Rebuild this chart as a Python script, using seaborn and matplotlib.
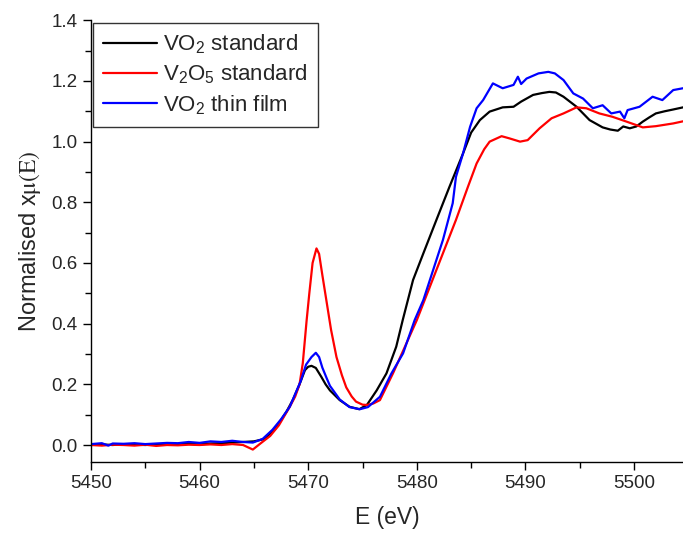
import pandas as pd
import matplotlib
matplotlib.use("Agg")
import matplotlib.pyplot as plt
import seaborn as sns
from matplotlib.ticker import MultipleLocator

# VO2 standard (black)
e_vo2 = [5450, 5451, 5452, 5453, 5454, 5455, 5456, 5457, 5458, 5459, 5460, 5461,
         5462, 5463, 5464, 5465, 5466, 5467, 5468, 5468.6, 5469.2, 5469.7, 5470.0,
         5470.3, 5470.7, 5471.2, 5471.6, 5472.0, 5472.9, 5473.8, 5474.7, 5475.4,
         5476.3, 5477.2, 5478.1, 5478.7, 5479.65, 5480.6, 5481.8, 5483.0, 5484.25,
         5485.0, 5485.8, 5486.7, 5487.9, 5488.9, 5489.6, 5490.7, 5491.5, 5492.2,
         5492.8, 5493.5, 5494.7, 5495.9, 5497.1, 5497.8, 5498.5, 5499.0, 5499.6,
         5500.2, 5500.8, 5501.4, 5502.0, 5502.8, 5503.6, 5504.5]
mu_vo2 = [0.0, 0.002, 0.0, 0.003, 0.001, 0.0, 0.002, 0.001, 0.003, 0.004, 0.002, 0.005,
          0.006, 0.008, 0.01, 0.012, 0.02, 0.055, 0.11, 0.15, 0.2, 0.247, 0.258,
          0.261, 0.254, 0.225, 0.2, 0.18, 0.148, 0.126, 0.118, 0.132,
          0.18, 0.236, 0.324, 0.412, 0.544, 0.632, 0.742, 0.851, 0.961,
          1.03, 1.071, 1.099, 1.113, 1.115, 1.132, 1.154, 1.16, 1.164,
          1.162, 1.148, 1.115, 1.071, 1.047, 1.04, 1.036, 1.05, 1.044,
          1.05, 1.066, 1.08, 1.093, 1.1, 1.106, 1.113]

# V2O5 standard (red)
e_v2o5 = [5450, 5451, 5452, 5453, 5454, 5455, 5456, 5457, 5458, 5459, 5460, 5461,
          5462, 5463, 5464, 5464.9, 5465.6, 5466.5, 5467.3, 5468.3, 5468.8, 5469.2,
          5469.5, 5469.85, 5470.1, 5470.4, 5470.76, 5471.0, 5471.3, 5471.7, 5472.1,
          5472.6, 5473.1, 5473.5, 5474.0, 5474.4, 5475.0, 5475.4, 5476.0, 5476.6,
          5477.8, 5478.9, 5480.0, 5481.2, 5482.4, 5483.6, 5484.7, 5485.5, 5486.2,
          5486.7, 5487.8, 5488.5, 5489.5, 5490.2, 5491.3, 5492.4, 5493.5, 5494.7,
          5495.6, 5496.8, 5498.0, 5499.3, 5500.8, 5502.0, 5503.6, 5504.5]
mu_v2o5 = [0.0, -0.002, 0.001, 0.0, -0.002, 0.001, -0.003, 0.0, -0.001, 0.001, 0.0, 0.002,
           0.0, 0.003, 0.0, -0.015, 0.005, 0.03, 0.065, 0.126, 0.16, 0.2,
           0.27, 0.41, 0.5, 0.6, 0.648, 0.63, 0.56, 0.47, 0.38,
           0.29, 0.23, 0.19, 0.16, 0.143, 0.133, 0.132, 0.137, 0.148,
           0.236, 0.324, 0.412, 0.522, 0.632, 0.742, 0.851, 0.928, 0.975,
           1.0, 1.018, 1.011, 1.0, 1.005, 1.044, 1.077, 1.093, 1.113,
           1.11, 1.093, 1.082, 1.066, 1.047, 1.051, 1.06, 1.067]

# VO2 thin film (blue)
e_film = [5450, 5451, 5451.6, 5452, 5453, 5454, 5455, 5456, 5457, 5458, 5459, 5460,
          5461, 5462, 5463, 5464, 5464.9, 5465.8, 5466.7, 5467.5, 5468.3, 5469.3,
          5469.8, 5470.3, 5470.7, 5471.0, 5471.3, 5471.7, 5472.0, 5472.9, 5473.8,
          5474.75, 5475.5, 5476.6, 5477.66, 5478.73, 5479.8, 5480.6, 5481.5, 5482.4,
          5483.3, 5483.6, 5484.25, 5484.9, 5485.5, 5486.1, 5487.0, 5487.9, 5488.9,
          5489.3, 5489.6, 5490.1, 5491.2, 5492.1, 5492.7, 5493.5, 5494.4, 5495.3,
          5496.2, 5497.1, 5497.9, 5498.7, 5499.1, 5499.4, 5500.5, 5501.7, 5502.6,
          5503.6, 5504.5]
mu_film = [0.003, 0.006, -0.002, 0.005, 0.004, 0.006, 0.003, 0.005, 0.007, 0.006, 0.01, 0.007,
           0.012, 0.01, 0.014, 0.01, 0.008, 0.02, 0.05, 0.085, 0.126, 0.21,
           0.265, 0.29, 0.304, 0.29, 0.255, 0.22, 0.195, 0.15, 0.125,
           0.118, 0.125, 0.159, 0.236, 0.302, 0.412, 0.478, 0.577, 0.676,
           0.797, 0.884, 0.961, 1.049, 1.11, 1.137, 1.192, 1.176, 1.187,
           1.214, 1.19, 1.208, 1.225, 1.23, 1.225, 1.203, 1.159, 1.142,
           1.11, 1.12, 1.093, 1.099, 1.077, 1.104, 1.115, 1.148, 1.137,
           1.17, 1.176]

labels = [r'VO$_\mathregular{2}$ standard',
          r'V$_\mathregular{2}$O$_\mathregular{5}$ standard',
          r'VO$_\mathregular{2}$ thin film']
colors = ['black', 'red', 'blue']

sns.set_style('ticks')
plt.rcParams['font.family'] = ['Liberation Sans', 'DejaVu Sans']
plt.rcParams['mathtext.fontset'] = 'custom'
plt.rcParams['mathtext.rm'] = 'Liberation Sans'

fig = plt.figure(figsize=(6.83, 5.34), dpi=100)
ax = fig.add_axes([0.1332, 0.1354, 0.8668, 0.8266])

series = [(e_vo2, mu_vo2), (e_v2o5, mu_v2o5), (e_film, mu_film)]
for (e, mu), lab, col in zip(series, labels, colors):
    df = pd.DataFrame({'E': e, 'mu': mu})
    sns.lineplot(data=df, x='E', y='mu', ax=ax, color=col, lw=1.6,
                 label=lab, sort=False)

ax.set_xlim(5450, 5504.5)
ax.set_ylim(-0.055, 1.4)
ax.xaxis.set_major_locator(MultipleLocator(10))
ax.xaxis.set_minor_locator(MultipleLocator(5))
ax.yaxis.set_major_locator(MultipleLocator(0.2))
ax.yaxis.set_minor_locator(MultipleLocator(0.1))
ax.tick_params(which='major', direction='out', length=6, width=1, labelsize=13.5,
               color='black')
ax.tick_params(which='minor', direction='out', length=4, width=1, color='black')
ax.yaxis.set_major_formatter(matplotlib.ticker.FormatStrFormatter('%.1f'))
for s in ['top', 'right']:
    ax.spines[s].set_visible(False)
for s in ['left', 'bottom']:
    ax.spines[s].set_color('black')
    ax.spines[s].set_linewidth(1)

ax.set_xlabel('E (eV)', fontsize=16.5, labelpad=10)
ylab = ax.set_ylabel(r'Normalised x$\mathrm{\mu(E)}$', fontsize=17, labelpad=6)
ylab.set_math_fontfamily('stix')

leg = ax.legend(loc='upper left', fontsize=16, frameon=True, fancybox=False,
                borderaxespad=0.1, handlelength=2.4, handletextpad=0.3,
                labelspacing=0.3, borderpad=0.45)
leg.get_frame().set_edgecolor('black')
leg.get_frame().set_linewidth(1)
for line in leg.get_lines():
    line.set_linewidth(1.6)

fig.savefig('out.png', dpi=100)
